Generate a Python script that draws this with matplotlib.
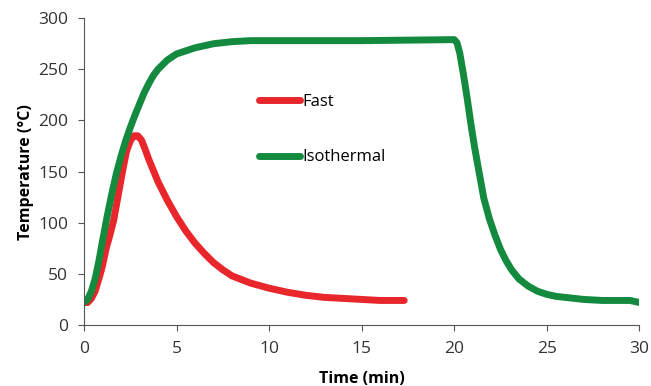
import numpy as np
import matplotlib.pyplot as plt

plt.rcParams.update({
    'font.family': ['Open Sans', 'DejaVu Sans'],
    'font.size': 12,
})

# Fast heating run (red)
fast_t = [0, 0.2, 0.4, 0.6, 0.85, 1.0, 1.2, 1.4, 1.6, 1.85, 2.1, 2.3, 2.5, 2.7,
          2.9, 3.1, 3.3, 3.5, 4, 4.5, 5, 5.5, 6, 6.5, 7, 7.5, 8, 9, 10, 11, 12,
          13, 14, 15, 16, 17.3]
fast_T = [22, 22, 26, 33, 48, 58, 75, 88, 102, 127, 152, 170, 180, 185,
          185, 181, 172, 162, 140, 122, 106, 92, 80, 70, 61, 54, 48, 41, 36,
          32, 29, 27, 26, 25, 24, 24]

# Isothermal run (green)
iso_t = [0, 0.2, 0.4, 0.6, 0.8, 1, 1.25, 1.5, 1.75, 2, 2.25, 2.5, 2.75, 3, 3.25,
         3.5, 3.75, 4, 4.5, 5, 5.5, 6, 6.5, 7, 8, 9, 10, 15, 20,
         20.15, 20.3, 20.5, 20.7, 20.9, 21.1, 21.3, 21.6, 21.9, 22.2, 22.5,
         22.8, 23.1, 23.5, 24, 24.5, 25, 25.5, 26, 27, 28, 29.5, 30]
iso_T = [22, 25, 33, 45, 62, 82, 106, 128, 148, 165, 180, 193, 205, 216, 227,
         236, 244, 250, 259, 265, 268, 271, 273, 275, 277, 278, 278, 278, 279,
         276, 266, 245, 222, 197, 174, 154, 124, 104, 88, 74,
         63, 54, 45, 38, 33, 30, 28, 27, 25, 24, 24, 22]

fig = plt.figure(figsize=(6.51, 3.86), dpi=100)
ax = fig.add_axes([0.129, 0.158, 0.853, 0.795])

ax.plot(fast_t, fast_T, color='#e8262b', lw=5, solid_capstyle='round',
        solid_joinstyle='round', label='Fast')
ax.plot(iso_t, iso_T, color='#138a3e', lw=5, solid_capstyle='round',
        solid_joinstyle='round', label='Isothermal')

ax.set_xlim(0, 30)
ax.set_ylim(0, 300)
ax.set_xticks(np.arange(0, 31, 5))
ax.set_yticks(np.arange(0, 301, 50))

for s in ['top', 'right']:
    ax.spines[s].set_visible(False)
for s in ['left', 'bottom']:
    ax.spines[s].set_color('#555555')
ax.tick_params(direction='out', length=4.5, color='#555555', labelsize=12.5,
               labelcolor='#333333', pad=7)

ax.set_xlabel('Time (min)', fontweight='bold', fontsize=11.5, labelpad=10)
ax.set_ylabel('Temperature (°C)', fontweight='bold', fontsize=11.5, labelpad=3)

ax.legend(loc='upper left', bbox_to_anchor=(0.315, 0.752), frameon=False,
          handlelength=2.45, handletextpad=0.15, labelspacing=2.35, borderpad=0,
          borderaxespad=0, fontsize=12)

plt.savefig('out.png')
